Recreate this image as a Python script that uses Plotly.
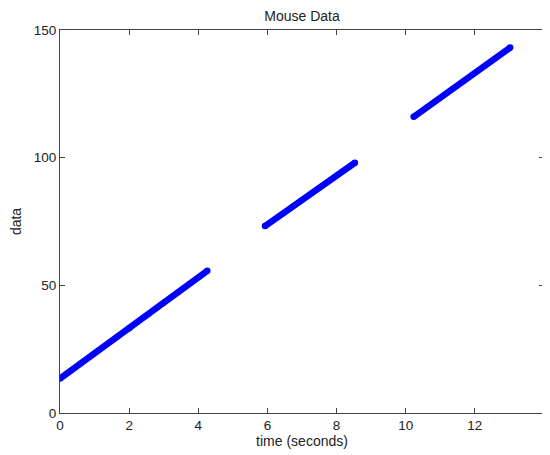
import plotly.graph_objects as go

# segment data (gaps separated by None)
time_s = [0.0, 2.0, 4.26, None,
          5.93, 8.53, None,
          10.23, 13.02]
data = [13.5, 33.2, 55.7, None,
        73.2, 98.0, None,
        116.0, 143.1]

x_ticks = [0, 2, 4, 6, 8, 10, 12, 14]
y_ticks = [0, 50, 100, 150]

fig = go.Figure()
fig.add_trace(go.Scatter(
    x=time_s, y=data, mode="lines+markers",
    line=dict(color="#0000ff", width=6.5),
    marker=dict(color="#0000ff", size=6.5),
    connectgaps=False, showlegend=False, hoverinfo="skip"))

FONT = "Liberation Sans, Arial"
axis_common = dict(
    showline=True, linecolor="#444444", linewidth=1, mirror="ticks",
    ticks="inside", ticklen=5, tickcolor="#444444", showgrid=False,
    zeroline=False, automargin=False,
    tickfont=dict(family=FONT, size=13.5, color="#222222"))

W, H = 542, 447
fig.update_layout(
    width=W, height=H,
    margin=dict(l=52, r=6, t=22, b=42),
    paper_bgcolor="white", plot_bgcolor="white",
    title=dict(text="Mouse Data", x=0.5, xanchor="center", xref="paper",
               yref="container", y=1 - 8.5 / H, yanchor="middle",
               font=dict(family=FONT, size=14, color="#222222")),
    xaxis=dict(range=[0, 14], tickvals=x_ticks, ticktext=[str(v) for v in x_ticks],
               title=dict(text="time (seconds)", standoff=1,
                          font=dict(family=FONT, size=14, color="#222222")),
               **axis_common),
    yaxis=dict(range=[0, 150], tickvals=y_ticks, ticktext=[str(v) for v in y_ticks],
               title=dict(text="data", standoff=11,
                          font=dict(family=FONT, size=14, color="#222222")),
               **axis_common),
)

fig.write_html("out.html")
